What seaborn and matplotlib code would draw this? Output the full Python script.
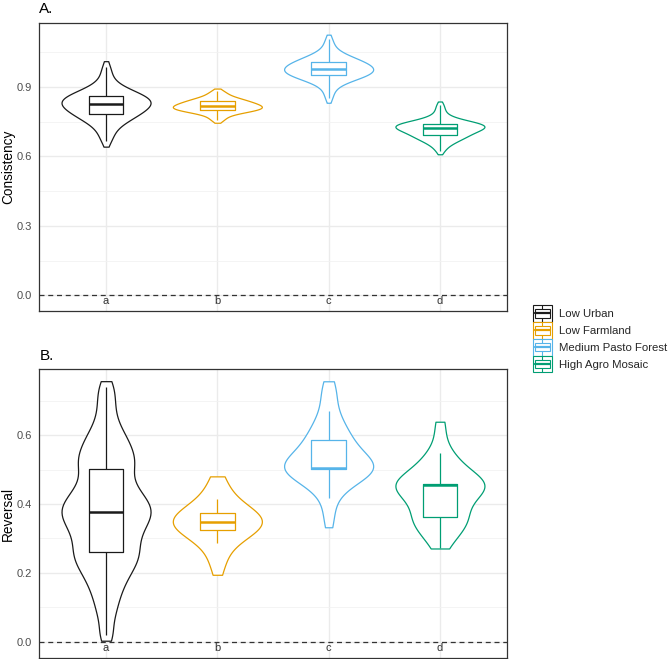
import pandas as pd
import seaborn as sns
import matplotlib.pyplot as plt
from matplotlib.legend_handler import HandlerBase
from matplotlib.patches import Rectangle, Patch
from matplotlib.lines import Line2D
from matplotlib.ticker import MultipleLocator, FormatStrFormatter

# --- groups / labels ---
groups = ["Low Urban", "Low Farmland", "Medium Pasto Forest", "High Agro Mosaic"]
letters = ["a", "b", "c", "d"]
colors = ["#1A1A1A", "#E69F00", "#56B4E9", "#009E73"]

cons_low_urban = [0.667, 0.690, 0.715, 0.732, 0.747, 0.754, 0.761, 0.768, 0.773, 0.779, 0.784,
                  0.789, 0.794, 0.798, 0.802, 0.807, 0.811, 0.815, 0.819, 0.823, 0.827,
                  0.830, 0.833, 0.836, 0.839, 0.843, 0.846, 0.849, 0.853, 0.856, 0.860,
                  0.864, 0.868, 0.873, 0.877, 0.885, 0.893, 0.904, 0.922, 0.955, 0.986]
cons_low_farm = [0.755, 0.764, 0.774, 0.782, 0.787, 0.790, 0.793, 0.795, 0.797, 0.799, 0.801,
                 0.803, 0.805, 0.806, 0.808, 0.809, 0.811, 0.812, 0.814, 0.815, 0.817,
                 0.819, 0.821, 0.823, 0.824, 0.826, 0.828, 0.830, 0.833, 0.835, 0.837,
                 0.839, 0.842, 0.845, 0.847, 0.851, 0.854, 0.859, 0.866, 0.875, 0.883]
cons_med_pasto = [0.852, 0.880, 0.905, 0.920, 0.928, 0.933, 0.937, 0.941, 0.945, 0.948, 0.951,
                  0.954, 0.957, 0.960, 0.962, 0.965, 0.967, 0.970, 0.972, 0.975, 0.977,
                  0.980, 0.983, 0.985, 0.988, 0.991, 0.994, 0.997, 1.000, 1.004, 1.007,
                  1.011, 1.014, 1.018, 1.023, 1.028, 1.033, 1.040, 1.052, 1.078, 1.105]
cons_high_agro = [0.623, 0.643, 0.654, 0.662, 0.668, 0.673, 0.678, 0.682, 0.686, 0.689, 0.693,
                  0.696, 0.700, 0.703, 0.706, 0.709, 0.712, 0.715, 0.717, 0.720, 0.723,
                  0.725, 0.726, 0.728, 0.730, 0.732, 0.733, 0.735, 0.737, 0.739, 0.741,
                  0.743, 0.745, 0.748, 0.750, 0.755, 0.760, 0.768, 0.780, 0.800, 0.823]

# --- B. reversal ---
rev_low_urban = [0.020, 0.080, 0.120, 0.150, 0.175, 0.195, 0.212, 0.226, 0.240, 0.252, 0.262,
                 0.276, 0.290, 0.303, 0.316, 0.328, 0.339, 0.349, 0.359, 0.368, 0.377,
                 0.385, 0.393, 0.402, 0.412, 0.423, 0.435, 0.448, 0.462, 0.480, 0.501,
                 0.513, 0.526, 0.540, 0.556, 0.573, 0.590, 0.612, 0.645, 0.692, 0.740]
rev_low_farm = [0.207, 0.225, 0.240, 0.253, 0.286, 0.296, 0.305, 0.312, 0.318, 0.322, 0.326,
                0.328, 0.331, 0.333, 0.336, 0.338, 0.340, 0.343, 0.345, 0.347, 0.349,
                0.351, 0.353, 0.356, 0.358, 0.360, 0.363, 0.365, 0.368, 0.370, 0.373,
                0.378, 0.384, 0.390, 0.397, 0.405, 0.414, 0.447, 0.455, 0.462, 0.468]
rev_med_pasto = [0.345, 0.370, 0.419, 0.440, 0.455, 0.468, 0.478, 0.487, 0.494, 0.499, 0.503,
                 0.503, 0.503, 0.504, 0.504, 0.504, 0.504, 0.505, 0.505, 0.505, 0.505,
                 0.513, 0.522, 0.531, 0.540, 0.549, 0.557, 0.565, 0.572, 0.579, 0.585,
                 0.593, 0.602, 0.612, 0.624, 0.637, 0.652, 0.670, 0.715, 0.732, 0.744]
rev_high_agro = [0.271, 0.293, 0.309, 0.321, 0.331, 0.339, 0.346, 0.352, 0.357, 0.360, 0.363,
                 0.373, 0.384, 0.395, 0.405, 0.415, 0.424, 0.433, 0.441, 0.449, 0.456,
                 0.456, 0.457, 0.457, 0.457, 0.458, 0.458, 0.458, 0.458, 0.459, 0.459,
                 0.472, 0.487, 0.500, 0.512, 0.523, 0.533, 0.541, 0.547, 0.612, 0.639]

# kernel bandwidth / tail cut per violin (A then B)
bw_A = [1.0, 0.9, 1.1, 0.9]
bw_B = [0.42, 1.5, 1.0, 1.0]
cut_A = [0.8, 0.8, 0.8, 0.8]
cut_B = [0.5, 0.3, 0.3, 0.0]


def make_frame(series):
    rows = []
    for g, vals in zip(groups, series):
        for v in vals:
            rows.append((g, v))
    return pd.DataFrame(rows, columns=["group", "value"])


class BoxKey(HandlerBase):
    """violin + boxplot key glyph, ggplot style"""
    def create_artists(self, legend, orig_handle, xdescent, ydescent, width, height, fontsize, trans):
        c = orig_handle.get_edgecolor()
        x0, y0, w, h = -xdescent, -ydescent, width, height
        xm = x0 + w / 2
        arts = [
            Rectangle((x0, y0), w, h, facecolor="white", edgecolor=c, lw=0.8),
            Rectangle((x0 + 0.1 * w, y0 + 0.25 * h), 0.8 * w, 0.5 * h, facecolor="none", edgecolor=c, lw=0.8),
            Line2D([xm, xm], [y0, y0 + 0.25 * h], color=c, lw=0.8),
            Line2D([xm, xm], [y0 + 0.75 * h, y0 + h], color=c, lw=0.8),
            Line2D([x0 + 0.1 * w, x0 + 0.9 * w], [y0 + 0.5 * h] * 2, color=c, lw=1.6),
        ]
        for a in arts:
            a.set_transform(trans)
        return arts


def draw_panel(ax, df, title, ylabel, whis, step, ylim, bws, cuts):
    pal = dict(zip(groups, colors))
    # one violin at a time so each gets its own bandwidth / cut
    for g, bw, ct in zip(groups, bws, cuts):
        sns.violinplot(data=df[df["group"] == g], x="group", y="value", hue="group",
                       order=groups, hue_order=groups, palette=pal, saturation=1, cut=ct,
                       inner=None, density_norm="width", width=0.8, bw_adjust=bw,
                       linewidth=0.9, legend=False, ax=ax)
    for coll in ax.collections:
        fc = coll.get_facecolor()[0]
        coll.set_edgecolor(fc)
        coll.set_facecolor("white")
    sns.boxplot(data=df, x="group", y="value", hue="group", order=groups, hue_order=groups,
                palette=pal, saturation=1, fill=False, width=0.31, whis=whis, showfliers=False,
                showcaps=False, linewidth=0.9, medianprops={"linewidth": 1.8}, legend=False, ax=ax)

    ax.axhline(0, color="#333333", ls=(0, (4, 3)), lw=0.9, zorder=1.5)
    for i, l in enumerate(letters):
        ax.text(i, -0.004, l, ha="center", va="top", fontsize=8, color="#333333")

    ax.set_xlim(-0.6, 3.6)
    ax.set_xticks(range(4))
    ax.set_xticklabels([])
    ax.tick_params(axis="x", length=0)
    ax.set_xlabel("")
    ax.set_ylim(*ylim)
    ax.yaxis.set_major_locator(MultipleLocator(step))
    ax.yaxis.set_minor_locator(MultipleLocator(step / 2))
    ax.yaxis.set_major_formatter(FormatStrFormatter("%.1f"))
    ax.tick_params(axis="y", which="major", length=3.5, width=0.8, color="#333333",
                   labelcolor="#4D4D4D", labelsize=8, pad=2)
    ax.tick_params(axis="y", which="minor", length=0)
    ax.set_axisbelow(True)
    ax.grid(which="major", color="#EBEBEB", lw=1.0)
    ax.grid(which="minor", axis="y", color="#F2F2F2", lw=0.6)
    for sp in ax.spines.values():
        sp.set_visible(True)
        sp.set_color("#333333")
        sp.set_linewidth(0.9)
    ax.set_title(title, loc="left", fontsize=11, pad=7, color="black")
    ax.set_ylabel(ylabel, fontsize=9.8, color="black")
    ax.yaxis.set_label_coords(-0.052, 0.5)


sns.set_style("white")
plt.rcParams["font.family"] = ["Liberation Sans", "DejaVu Sans"]

fig = plt.figure(figsize=(6.69, 6.59), dpi=100)
axA = fig.add_axes([0.0587, 0.5276, 0.6987, 0.4379])
axB = fig.add_axes([0.0587, 0.0015, 0.6987, 0.438])

dfA = make_frame([cons_low_urban, cons_low_farm, cons_med_pasto, cons_high_agro])
dfB = make_frame([rev_low_urban, rev_low_farm, rev_med_pasto, rev_high_agro])

draw_panel(axA, dfA, "A.", "Consistency", (0, 100), 0.3, (-0.069, 1.177), bw_A, cut_A)
draw_panel(axB, dfB, "B.", "Reversal", 1.5, 0.2, (-0.047, 0.791), bw_B, cut_B)

handles = [Patch(edgecolor=c, facecolor="white") for c in colors]
fig.legend(handles, groups, handler_map={Patch: BoxKey()}, loc="center left",
           bbox_to_anchor=(0.796, 0.486), frameon=False, fontsize=8.2,
           handlelength=1.75, handleheight=1.9, labelspacing=0.0, handletextpad=0.6,
           borderpad=0, borderaxespad=0)

fig.savefig("out.png", dpi=100)
